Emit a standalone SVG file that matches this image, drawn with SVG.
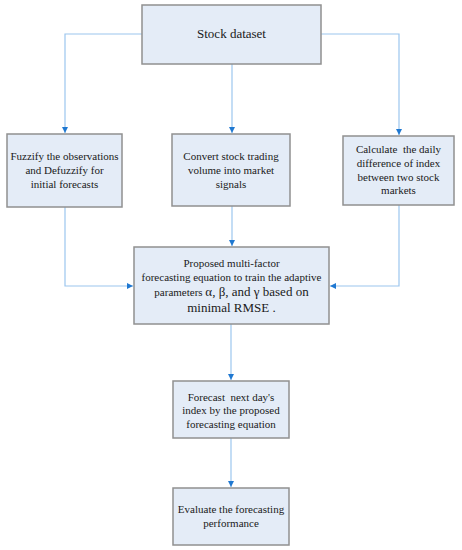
<svg xmlns="http://www.w3.org/2000/svg" width="462" height="550" viewBox="0 0 462 550">
<defs>
<marker id="arr" viewBox="0 0 6 6" refX="6" refY="3" markerWidth="6" markerHeight="6" markerUnits="userSpaceOnUse" orient="auto">
<path d="M0,0 L6,3 L0,6 Z" fill="#1f78d1"/>
</marker>
<style>
.box{fill:#e4ecf7;stroke:#909090;stroke-width:1.5}
.t{font-family:'Liberation Serif','DejaVu Serif',serif;font-size:11px;fill:#1a1a1a;text-anchor:middle;white-space:pre}
.c{fill:none;stroke:#9cc6ee;stroke-width:1.2;marker-end:url(#arr)}
</style>
</defs>
<rect width="462" height="550" fill="#ffffff"/>
<g id="connectors">
<path class="c" d="M142,34 H65 V133"/>
<path class="c" d="M232,64 V133"/>
<path class="c" d="M321,34 H399 V135"/>
<path class="c" d="M65,207 V286 H133"/>
<path class="c" d="M232,206 V246"/>
<path class="c" d="M399,205 V286 H330"/>
<path class="c" d="M231,324 V380"/>
<path class="c" d="M231,438 V487"/>
</g>
<g id="stock">
<rect class="box" x="142" y="5" width="179" height="59"/>
<text class="t" x="231.5" y="38" font-family="Liberation Serif, serif" style="font-size:13px">Stock dataset</text>
</g>
<g id="fuzzify">
<rect class="box" x="7" y="134" width="115" height="73"/>
<text class="t" x="64.5" y="160">Fuzzify the observations</text>
<text class="t" x="64.5" y="174">and Defuzzify for</text>
<text class="t" x="64.5" y="188">initial forecasts</text>
</g>
<g id="convert">
<rect class="box" x="172" y="134" width="118" height="72"/>
<text class="t" x="231" y="160">Convert stock trading</text>
<text class="t" x="231" y="174">volume into market</text>
<text class="t" x="231" y="188">signals</text>
</g>
<g id="calculate">
<rect class="box" x="343" y="136" width="111" height="69"/>
<text class="t" x="398.5" y="153" xml:space="preserve">Calculate  the daily</text>
<text class="t" x="398.5" y="167">difference of index</text>
<text class="t" x="398.5" y="181">between two stock</text>
<text class="t" x="398.5" y="194">markets</text>
</g>
<g id="proposed">
<rect class="box" x="134" y="247" width="195" height="77"/>
<text class="t" x="231.5" y="267">Proposed multi-factor</text>
<text class="t" x="231.5" y="281">forecasting equation to train the adaptive</text>
<text class="t" x="231.5" y="296">parameters <tspan style="font-size:13px">α, β, and γ based on</tspan></text>
<text class="t" x="231.5" y="312" style="font-size:13px">minimal RMSE .</text>
</g>
<g id="forecast">
<rect class="box" x="173" y="381" width="116" height="57"/>
<text class="t" x="231" y="401" xml:space="preserve">Forecast  next day's</text>
<text class="t" x="231" y="414">index by the proposed</text>
<text class="t" x="231" y="428">forecasting equation</text>
</g>
<g id="evaluate">
<rect class="box" x="173" y="488" width="116" height="57"/>
<text class="t" x="231" y="513">Evaluate the forecasting</text>
<text class="t" x="231" y="527">performance</text>
</g>
</svg>
